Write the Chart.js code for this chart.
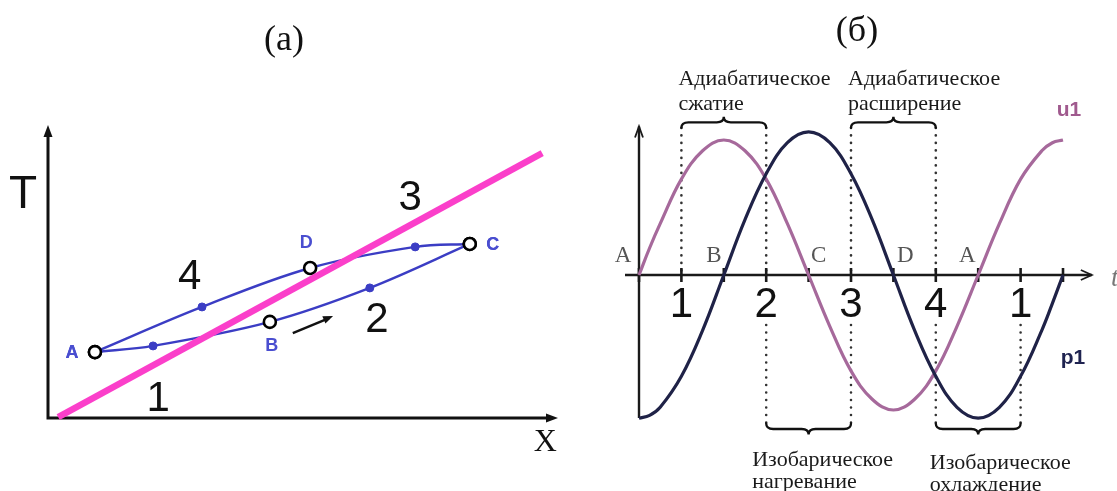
<!DOCTYPE html>
<html>
<head>
<meta charset="utf-8">
<script src="https://cdn.jsdelivr.net/npm/chart.js@4.4.1/dist/chart.umd.min.js"></script>
<style>
  html, body { margin: 0; padding: 0; background: #fff; }
  #wrap { position: relative; width: 1117px; height: 491px; overflow: hidden; }
  #left { position: absolute; left: 0; top: 0; width: 580px; height: 491px; }
  #right { position: absolute; left: 585px; top: 0; width: 532px; height: 491px; }
</style>
</head>
<body>
<div id="wrap">
  <canvas id="left" width="580" height="491"></canvas>
  <canvas id="right" width="532" height="491"></canvas>
</div>
<script>
// (a) cycle in the T-x plane
var lowerX = [0.92, 2.06, 4.35, 6.31, 8.27];
var lowerY = [2.25, 2.46, 3.28, 4.44, 5.94];
var lowerStates = ['A', '', 'B', '', 'C'];
var upperX = [8.27, 7.20, 5.14, 3.02, 0.92];
var upperY = [5.94, 5.84, 5.12, 3.79, 2.25];
var upperStates = ['C', '', 'D', '', 'A'];
var lineX = [0.2, 9.69];
var lineY = [0.03, 9.04];

// (б) u1 and p1 against t
var tValues = [0, 0.25, 0.5, 1, 1.5, 2, 2.5, 3, 3.5, 4, 4.5, 5, 5.5, 6, 6.5, 7, 7.5, 8, 8.5, 9, 9.5, 9.75, 10];
var u1Values = [0, 0.2, 0.38, 0.71, 0.92, 1, 0.92, 0.71, 0.38, 0, -0.38, -0.71, -0.92, -1, -0.92, -0.71, -0.38, 0, 0.38, 0.71, 0.92, 0.98, 1];
var p1Values = [-1.06, -1.04, -0.98, -0.75, -0.41, 0, 0.41, 0.75, 0.98, 1.06, 0.98, 0.75, 0.41, 0, -0.41, -0.75, -0.98, -1.06, -0.98, -0.75, -0.41, -0.21, 0];
var tickValues = [0, 1, 2, 3, 4, 5, 6, 7, 8, 9, 10];
var stageTicks = [1, 3, 5, 7, 9];
var stageNames = ['1', '2', '3', '4', '1'];
var crossTicks = [0, 2, 4, 6, 8];
var crossNames = ['A', 'B', 'C', 'D', 'A'];
var adiabatic = [[1, 3, 'Адиабатическое', 'сжатие'], [5, 7, 'Адиабатическое', 'расширение']];
var isobaric = [[3, 5, 'Изобарическое', 'нагревание'], [7, 9, 'Изобарическое', 'охлаждение']];

var SERIF = '"Liberation Serif", "DejaVu Serif", serif';
var SANS = '"Liberation Sans", Arial, sans-serif';
var BLUE = '#3b3dc4';

function toPoints(xs, ys) {
  return xs.map(function(x, i) { return { x: x, y: ys[i] }; });
}

function stateStyle(states, open, filled) {
  return states.map(function(s) { return s ? open : filled; });
}

function loopDataset(xs, ys, states) {
  return {
    data: toPoints(xs, ys),
    borderColor: BLUE,
    borderWidth: 2.4,
    tension: 0.35,
    clip: false,
    order: 2,
    pointRadius: stateStyle(states, 6, 4),
    pointBorderWidth: stateStyle(states, 2.6, 1),
    pointBorderColor: stateStyle(states, '#000', BLUE),
    pointBackgroundColor: stateStyle(states, '#fff', BLUE)
  };
}

function arrowHead(ctx, x1, y1, x2, y2, len, half) {
  var a = Math.atan2(y2 - y1, x2 - x1);
  ctx.beginPath();
  ctx.moveTo(x2, y2);
  ctx.lineTo(x2 - len * Math.cos(a) + half * Math.sin(a), y2 - len * Math.sin(a) - half * Math.cos(a));
  ctx.lineTo(x2 - len * Math.cos(a) - half * Math.sin(a), y2 - len * Math.sin(a) + half * Math.cos(a));
  ctx.closePath();
  ctx.fill();
}

var stateOffsets = { A: [-23, 1], B: [2, 24], C: [23, 1], D: [-4, -25] };

var cyclePlugin = {
  id: 'cyclePlot',
  beforeDatasetsDraw: function(chart) {
    var ctx = chart.ctx, xs = chart.scales.x, ys = chart.scales.y;
    var x0 = xs.getPixelForValue(0), y0 = ys.getPixelForValue(0);
    var xEnd = xs.getPixelForValue(10), yEnd = ys.getPixelForValue(10);
    ctx.save();
    ctx.strokeStyle = '#111';
    ctx.fillStyle = '#111';
    ctx.lineWidth = 3;
    ctx.beginPath();
    ctx.moveTo(x0, y0); ctx.lineTo(x0, yEnd + 8);
    ctx.moveTo(x0 - 1.5, y0); ctx.lineTo(xEnd - 8, y0);
    ctx.stroke();
    arrowHead(ctx, x0, y0, x0, yEnd, 12, 4.5);
    arrowHead(ctx, x0, y0, xEnd, y0, 12, 4.5);

    ctx.font = '46px ' + SANS;
    ctx.textAlign = 'center';
    ctx.textBaseline = 'middle';
    ctx.fillText('T', x0 - 25, ys.getPixelForValue(7.6));
    ctx.font = '32px ' + SERIF;
    ctx.fillText('X', xs.getPixelForValue(9.75), y0 + 25);

    ctx.font = '36px ' + SERIF;
    ctx.fillText('(a)', 284, 41);
    ctx.restore();
  },
  afterDatasetsDraw: function(chart) {
    var ctx = chart.ctx, xs = chart.scales.x, ys = chart.scales.y;
    ctx.save();
    // state letters next to the open circles
    ctx.font = 'bold 18px ' + SANS;
    ctx.fillStyle = '#4a4ed0';
    ctx.textAlign = 'center';
    ctx.textBaseline = 'middle';
    [[lowerX, lowerY, lowerStates], [upperX, upperY, upperStates]].forEach(function(branch) {
      branch[2].forEach(function(s, i) {
        if (!s) return;
        var off = stateOffsets[s];
        ctx.fillText(s, xs.getPixelForValue(branch[0][i]) + off[0], ys.getPixelForValue(branch[1][i]) + off[1]);
      });
    });

    // process numbers
    ctx.font = '42px ' + SANS;
    ctx.fillStyle = '#111';
    [['1', 2.16, 0.62], ['2', 6.45, 3.34], ['3', 7.10, 7.51], ['4', 2.78, 4.81]].forEach(function(n) {
      ctx.fillText(n[0], xs.getPixelForValue(n[1]), ys.getPixelForValue(n[2]));
    });

    // direction of travel along A-B-C
    var ax1 = xs.getPixelForValue(4.80), ay1 = ys.getPixelForValue(2.90);
    var ax2 = xs.getPixelForValue(5.59), ay2 = ys.getPixelForValue(3.48);
    ctx.strokeStyle = '#111';
    ctx.lineWidth = 2.4;
    ctx.beginPath();
    ctx.moveTo(ax1, ay1);
    ctx.lineTo(ax2 - 4, ay2 + 2);
    ctx.stroke();
    arrowHead(ctx, ax1, ay1, ax2, ay2, 10, 4);
    ctx.restore();
  }
};

new Chart(document.getElementById('left'), {
  type: 'line',
  data: {
    datasets: [
      loopDataset(lowerX, lowerY, lowerStates),
      loopDataset(upperX, upperY, upperStates),
      {
        data: toPoints(lineX, lineY),
        borderColor: '#fb3fca',
        borderWidth: 6.5,
        pointRadius: 0,
        clip: false,
        order: 1
      }
    ]
  },
  options: {
    responsive: false,
    animation: false,
    layout: { padding: { left: 48, right: 22, top: 125, bottom: 73 } },
    scales: {
      x: { type: 'linear', min: 0, max: 10, display: false },
      y: { type: 'linear', min: 0, max: 10, display: false }
    },
    plugins: { legend: { display: false }, tooltip: { enabled: false } }
  },
  plugins: [cyclePlugin]
});

// curly brace between x1 and x2; dir = -1 tip up, dir = 1 tip down
function brace(ctx, x1, x2, yEnd, dir) {
  var y = yEnd + dir * 5.5, xm = (x1 + x2) / 2, r = 7;
  ctx.beginPath();
  ctx.moveTo(x1, yEnd);
  ctx.quadraticCurveTo(x1, y, x1 + r, y);
  ctx.lineTo(xm - r, y);
  ctx.quadraticCurveTo(xm, y, xm, y + dir * 5.5);
  ctx.quadraticCurveTo(xm, y, xm + r, y);
  ctx.lineTo(x2 - r, y);
  ctx.quadraticCurveTo(x2, y, x2, yEnd);
  ctx.stroke();
}

var wavePlugin = {
  id: 'waveFrame',
  beforeDatasetsDraw: function(chart) {
    var ctx = chart.ctx, xs = chart.scales.x, ys = chart.scales.y;
    var y0 = ys.getPixelForValue(0);
    ctx.save();
    ctx.lineCap = 'round';

    // dotted stage boundaries
    ctx.strokeStyle = '#333';
    ctx.lineWidth = 2.6;
    ctx.setLineDash([0.1, 7.4]);
    stageTicks.forEach(function(t, i) {
      var x = xs.getPixelForValue(t);
      ctx.beginPath();
      if (i < 4) { ctx.moveTo(x, ys.getPixelForValue(1.09)); ctx.lineTo(x, y0); }
      if (i > 0) { ctx.moveTo(x, ys.getPixelForValue(-0.37)); ctx.lineTo(x, ys.getPixelForValue(-1.1)); }
      ctx.stroke();
    });
    ctx.setLineDash([]);

    // braces and captions
    ctx.strokeStyle = '#111';
    ctx.lineWidth = 2.3;
    ctx.fillStyle = '#1a1a1a';
    ctx.font = '22px ' + SERIF;
    ctx.textAlign = 'left';
    ctx.textBaseline = 'alphabetic';
    adiabatic.forEach(function(b) {
      var x1 = xs.getPixelForValue(b[0]), x2 = xs.getPixelForValue(b[1]);
      var yE = ys.getPixelForValue(1.09);
      brace(ctx, x1, x2, yE, -1);
      ctx.fillText(b[2], x1 - 3, yE - 43);
      ctx.fillText(b[3], x1 - 3, yE - 18);
    });
    isobaric.forEach(function(b, i) {
      var x1 = xs.getPixelForValue(b[0]), x2 = xs.getPixelForValue(b[1]);
      var yE = ys.getPixelForValue(-1.1);
      brace(ctx, x1, x2, yE, 1);
      var dx = i === 0 ? -14 : -6;
      ctx.fillText(b[2], x1 + dx, yE + 42 + i * 3);
      ctx.fillText(b[3], x1 + dx, yE + 64 + i * 3);
    });

    // axes
    ctx.lineCap = 'butt';
    ctx.strokeStyle = '#1a1a1a';
    ctx.lineWidth = 2.4;
    var xa = xs.getPixelForValue(0);
    var xTip = xs.getPixelForValue(10.68), yTip = ys.getPixelForValue(1.1);
    ctx.beginPath();
    ctx.moveTo(xs.getPixelForValue(-0.33), y0); ctx.lineTo(xTip, y0);
    ctx.moveTo(xa, ys.getPixelForValue(-1.06)); ctx.lineTo(xa, yTip);
    ctx.stroke();
    ctx.lineWidth = 1.8;
    ctx.beginPath();
    ctx.moveTo(xTip - 11, y0 - 5); ctx.lineTo(xTip, y0); ctx.lineTo(xTip - 11, y0 + 5);
    ctx.moveTo(xa - 4, yTip + 11); ctx.lineTo(xa, yTip); ctx.lineTo(xa + 4, yTip + 11);
    ctx.stroke();
    ctx.lineWidth = 2.6;
    tickValues.forEach(function(t) {
      var x = xs.getPixelForValue(t);
      ctx.beginPath(); ctx.moveTo(x, y0 - 7); ctx.lineTo(x, y0 + 7); ctx.stroke();
    });
    ctx.restore();
  },
  afterDatasetsDraw: function(chart) {
    var ctx = chart.ctx, xs = chart.scales.x, ys = chart.scales.y;
    var y0 = ys.getPixelForValue(0);
    ctx.save();
    ctx.textAlign = 'center';
    ctx.textBaseline = 'middle';

    ctx.font = '42px ' + SANS;
    ctx.fillStyle = '#111';
    stageTicks.forEach(function(t, i) {
      ctx.fillText(stageNames[i], xs.getPixelForValue(t), y0 + 30);
    });

    ctx.font = '23px ' + SERIF;
    ctx.fillStyle = '#555';
    var side = [-16, -10, 10, 12, -11];
    crossTicks.forEach(function(t, i) {
      ctx.fillText(crossNames[i], xs.getPixelForValue(t) + side[i], y0 - 19);
    });

    ctx.font = 'italic 27px ' + SERIF;
    ctx.fillStyle = '#777';
    ctx.textAlign = 'left';
    ctx.fillText('t', xs.getPixelForValue(10) + 48, y0 + 4);

    ctx.font = 'bold 21px ' + SANS;
    ctx.textAlign = 'center';
    ctx.fillStyle = '#a05a8e';
    ctx.fillText('u1', xs.getPixelForValue(10) + 6, ys.getPixelForValue(1.22));
    ctx.fillStyle = '#1f2350';
    ctx.fillText('p1', xs.getPixelForValue(10) + 10, ys.getPixelForValue(-0.615));

    ctx.font = '36px ' + SERIF;
    ctx.fillStyle = '#111';
    ctx.fillText('(б)', 272, 32);
    ctx.restore();
  }
};

new Chart(document.getElementById('right'), {
  type: 'line',
  data: {
    datasets: [
      {
        label: 'u1',
        data: toPoints(tValues, u1Values),
        borderColor: '#a6699b',
        borderWidth: 3.2,
        pointRadius: 0,
        tension: 0.4,
        clip: false,
        order: 2
      },
      {
        label: 'p1',
        data: toPoints(tValues, p1Values),
        borderColor: '#1f2247',
        borderWidth: 3.2,
        pointRadius: 0,
        tension: 0.4,
        clip: false,
        order: 1
      }
    ]
  },
  options: {
    responsive: false,
    animation: false,
    layout: { padding: { left: 54, right: 54, top: 113, bottom: 54 } },
    scales: {
      x: { type: 'linear', min: 0, max: 10, display: false },
      y: { type: 'linear', min: -1.2, max: 1.2, display: false }
    },
    plugins: { legend: { display: false }, tooltip: { enabled: false } }
  },
  plugins: [wavePlugin]
});
</script>
</body>
</html>
